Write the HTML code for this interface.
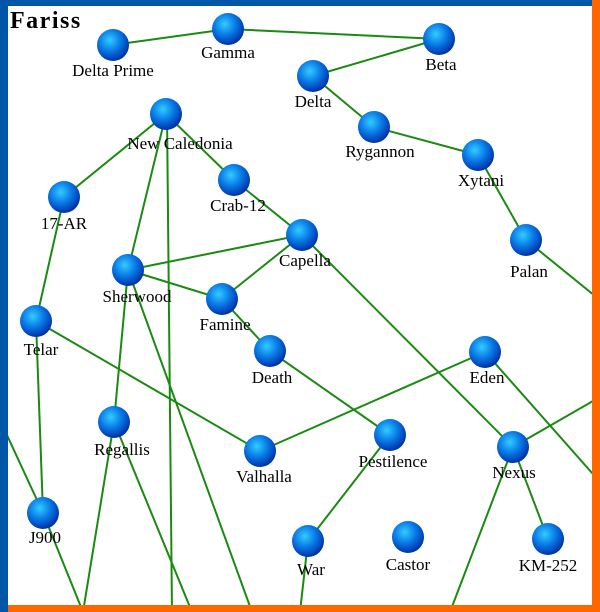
<!DOCTYPE html>
<html><head><style>
html,body{margin:0;padding:0;background:#fff}
svg{display:block}
text{font-family:"Liberation Serif",serif;font-size:17px;fill:#000}
</style></head><body>
<svg width="600" height="612" viewBox="0 0 600 612" xmlns="http://www.w3.org/2000/svg">
<defs>
<radialGradient id="g" cx="0.4" cy="0.35" r="0.65">
<stop offset="0" stop-color="#33ccff"/>
<stop offset="0.5" stop-color="#0a7de8"/>
<stop offset="1" stop-color="#0033aa"/>
</radialGradient>
</defs>
<rect width="600" height="612" fill="#fff"/>
<g stroke="#1a8a10" stroke-width="2" fill="none">
<line x1="113" y1="45" x2="228" y2="29"/>
<line x1="228" y1="29" x2="439" y2="39"/>
<line x1="439" y1="39" x2="313" y2="76"/>
<line x1="313" y1="76" x2="374" y2="127"/>
<line x1="374" y1="127" x2="478" y2="155"/>
<line x1="478" y1="155" x2="526" y2="240"/>
<line x1="526" y1="240" x2="600" y2="300"/>
<line x1="166" y1="114" x2="64" y2="197"/>
<line x1="166" y1="114" x2="234" y2="180"/>
<line x1="234" y1="180" x2="302" y2="235"/>
<line x1="166" y1="114" x2="128" y2="270"/>
<line x1="167" y1="114" x2="172" y2="612"/>
<line x1="64" y1="197" x2="36" y2="321"/>
<line x1="36" y1="321" x2="43" y2="513"/>
<line x1="36" y1="321" x2="260" y2="451"/>
<line x1="128" y1="270" x2="302" y2="235"/>
<line x1="128" y1="270" x2="222" y2="299"/>
<line x1="128" y1="270" x2="114" y2="422"/>
<line x1="128" y1="270" x2="252" y2="612"/>
<line x1="302" y1="235" x2="222" y2="299"/>
<line x1="222" y1="299" x2="270" y2="351"/>
<line x1="270" y1="351" x2="390" y2="435"/>
<line x1="390" y1="435" x2="308" y2="541"/>
<line x1="308" y1="541" x2="300" y2="612"/>
<line x1="302" y1="235" x2="513" y2="447"/>
<line x1="260" y1="451" x2="485" y2="352"/>
<line x1="485" y1="352" x2="600" y2="482"/>
<line x1="513" y1="447" x2="600" y2="397"/>
<line x1="513" y1="447" x2="548" y2="539"/>
<line x1="513" y1="447" x2="450" y2="612"/>
<line x1="114" y1="422" x2="83" y2="612"/>
<line x1="114" y1="422" x2="192" y2="612"/>
<line x1="0" y1="420" x2="43" y2="513"/>
<line x1="43" y1="513" x2="83" y2="612"/>
</g>
<g fill="url(#g)">
<circle cx="113" cy="45" r="16"/><circle cx="228" cy="29" r="16"/><circle cx="439" cy="39" r="16"/>
<circle cx="313" cy="76" r="16"/><circle cx="374" cy="127" r="16"/><circle cx="478" cy="155" r="16"/>
<circle cx="166" cy="114" r="16"/><circle cx="234" cy="180" r="16"/><circle cx="64" cy="197" r="16"/>
<circle cx="302" cy="235" r="16"/><circle cx="526" cy="240" r="16"/><circle cx="128" cy="270" r="16"/>
<circle cx="222" cy="299" r="16"/><circle cx="36" cy="321" r="16"/><circle cx="270" cy="351" r="16"/>
<circle cx="485" cy="352" r="16"/><circle cx="114" cy="422" r="16"/><circle cx="390" cy="435" r="16"/>
<circle cx="260" cy="451" r="16"/><circle cx="513" cy="447" r="16"/><circle cx="43" cy="513" r="16"/>
<circle cx="308" cy="541" r="16"/><circle cx="408" cy="537" r="16"/><circle cx="548" cy="539" r="16"/>
</g>
<g text-anchor="middle">
<text x="113" y="76">Delta Prime</text><text x="228" y="58">Gamma</text><text x="441" y="70">Beta</text>
<text x="313" y="107">Delta</text><text x="380" y="157">Rygannon</text><text x="481" y="186">Xytani</text>
<text x="180" y="149">New Caledonia</text><text x="238" y="211">Crab-12</text><text x="64" y="229">17-AR</text>
<text x="305" y="266">Capella</text><text x="529" y="277">Palan</text><text x="137" y="302">Sherwood</text>
<text x="225" y="330">Famine</text><text x="41" y="355">Telar</text><text x="272" y="383">Death</text>
<text x="487" y="383">Eden</text><text x="122" y="455">Regallis</text><text x="393" y="467">Pestilence</text>
<text x="264" y="482">Valhalla</text><text x="514" y="478">Nexus</text><text x="45" y="543">J900</text>
<text x="311" y="575">War</text><text x="408" y="570">Castor</text><text x="548" y="571">KM-252</text>
</g>
<rect x="0" y="0" width="600" height="6" fill="#0057a8"/>
<rect x="0" y="0" width="8" height="612" fill="#0057a8"/>
<rect x="592" y="0" width="8" height="612" fill="#ff6600"/>
<rect x="8" y="605" width="592" height="7" fill="#ff6600"/>
<text x="10" y="28" style="font-size:24px;font-weight:bold;letter-spacing:1.5px">Fariss</text>
</svg>
</body></html>
